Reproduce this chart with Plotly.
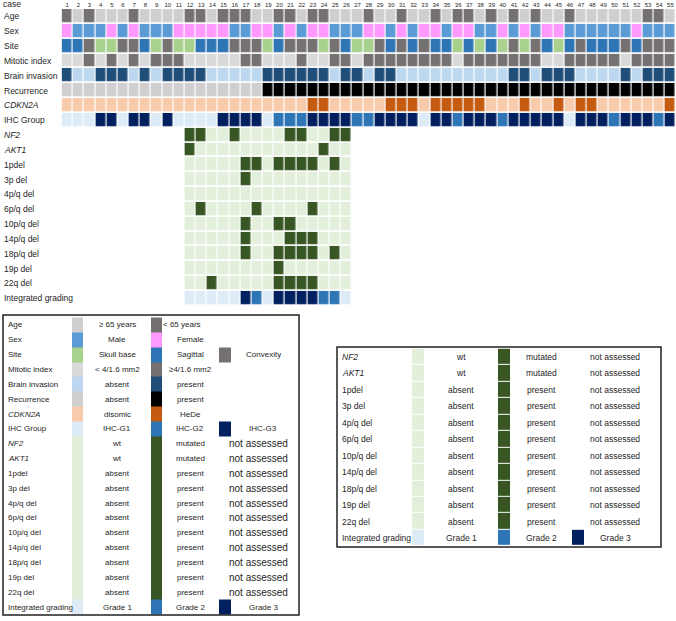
import plotly.graph_objects as go

W, H = 676, 621
FONT = 'Liberation Sans, Arial, sans-serif'
TXT = '#262626'

cases = list(range(1, 56))
gen_cases = [12, 13, 14, 15, 16, 17, 18, 19, 20, 21, 22, 23, 24, 25, 26]

# clinical rows, one value per case (index into the level list)
age_levels = ['≥ 65 years', '< 65 years']
age = [1, 0, 1, 0, 0, 0, 1, 0, 0, 0, 0, 1, 1, 0, 1, 1, 1, 0, 0, 1,
       1, 0, 1, 1, 0, 0, 0, 1, 0, 0, 1, 0, 0, 1, 0, 1, 1, 0, 1, 0,
       1, 0, 1, 0, 0, 1, 0, 0, 0, 0, 0, 0, 1, 1, 0]
sex_levels = ['Male', 'Female']
sex = [1, 0, 0, 0, 1, 0, 1, 0, 0, 0, 1, 1, 1, 1, 1, 0, 0, 1, 1, 0,
       1, 0, 1, 1, 0, 0, 0, 1, 1, 0, 1, 0, 1, 1, 0, 1, 1, 0, 0, 1,
       0, 1, 0, 1, 1, 0, 0, 0, 0, 0, 0, 1, 0, 0, 0]
site_levels = ['Skull base', 'Sagittal', 'Convexity']
site = [1, 1, 2, 0, 0, 2, 2, 1, 0, 2, 0, 0, 1, 1, 1, 2, 2, 2, 0, 1,
        2, 2, 2, 0, 2, 1, 0, 0, 2, 1, 2, 1, 2, 1, 1, 0, 1, 0, 1, 0,
        2, 0, 2, 1, 0, 1, 2, 1, 1, 1, 2, 1, 2, 2, 2]
mitotic_levels = ['< 4/1.6 mm2', '≥4/1.6 mm2']
mitotic = [0, 0, 1, 0, 1, 0, 1, 0, 1, 1, 1, 0, 0, 0, 0, 0, 1, 1, 0, 0,
           0, 1, 0, 0, 1, 1, 0, 1, 1, 1, 1, 1, 1, 1, 1, 0, 1, 1, 1, 1,
           1, 1, 1, 0, 0, 1, 1, 1, 1, 1, 0, 1, 1, 1, 1]
absent_present = ['absent', 'present']
brain = [1, 0, 0, 1, 1, 1, 0, 1, 0, 1, 1, 1, 1, 0, 0, 0, 0, 0, 1, 1,
         1, 1, 1, 1, 0, 1, 1, 0, 1, 1, 0, 0, 0, 0, 0, 0, 0, 0, 0, 0,
         1, 1, 0, 1, 1, 1, 0, 0, 0, 0, 1, 0, 1, 1, 1]
recurrence = [0, 0, 0, 0, 0, 0, 0, 0, 0, 0, 0, 0, 0, 0, 0, 0, 0, 0, 1, 1,
              1, 1, 1, 1, 1, 1, 1, 1, 1, 1, 1, 1, 1, 1, 1, 1, 1, 1, 1, 1,
              1, 1, 1, 1, 1, 1, 1, 1, 1, 1, 1, 1, 1, 1, 1]
cdkn2a_levels = ['disomic', 'HeDe']
cdkn2a = [0, 0, 0, 0, 0, 0, 0, 0, 0, 0, 0, 0, 0, 0, 0, 0, 0, 0, 0, 0,
          0, 0, 1, 1, 0, 0, 0, 0, 0, 1, 1, 1, 0, 1, 1, 1, 1, 1, 0, 0,
          0, 1, 0, 0, 1, 0, 1, 1, 0, 0, 0, 0, 0, 0, 1]
ihc_levels = ['IHC-G1', 'IHC-G2', 'IHC-G3']
ihc = [0, 0, 0, 2, 2, 0, 2, 2, 0, 2, 0, 0, 0, 0, 2, 2, 2, 2, 0, 1,
       1, 1, 2, 2, 2, 2, 1, 1, 2, 2, 2, 2, 0, 2, 2, 1, 2, 2, 2, 1,
       2, 2, 2, 2, 2, 0, 2, 2, 2, 1, 2, 2, 2, 1, 2]

# molecular rows, only cases 12-26 assessed
wt_mut = ['wt', 'mutated']
nf2 = [1, 1, 0, 0, 1, 0, 0, 0, 0, 1, 1, 0, 0, 1, 1]
akt1 = [1, 0, 0, 0, 0, 0, 0, 0, 0, 0, 0, 0, 1, 0, 0]
del1p = [0, 0, 0, 0, 0, 1, 1, 0, 1, 1, 1, 1, 0, 1, 0]
del3p = [0, 0, 0, 0, 0, 1, 0, 0, 0, 0, 0, 0, 0, 0, 0]
del4pq = [0, 0, 0, 0, 0, 0, 0, 0, 0, 0, 0, 0, 0, 0, 0]
del6pq = [0, 1, 0, 0, 0, 0, 1, 0, 0, 0, 0, 1, 0, 0, 0]
del10pq = [0, 0, 0, 0, 0, 1, 0, 0, 1, 1, 0, 0, 0, 0, 0]
del14pq = [0, 0, 0, 0, 0, 1, 0, 0, 0, 1, 1, 1, 0, 0, 0]
del18pq = [0, 0, 0, 0, 0, 1, 0, 0, 1, 1, 1, 1, 0, 1, 0]
del19p = [0, 0, 0, 0, 0, 0, 0, 0, 1, 0, 0, 0, 0, 0, 0]
del22q = [0, 0, 1, 0, 0, 0, 0, 0, 1, 1, 1, 1, 0, 0, 0]
grade_levels = ['Grade 1', 'Grade 2', 'Grade 3']
grading = [0, 0, 0, 0, 0, 2, 1, 0, 2, 2, 2, 2, 1, 1, 0]

BLUES3 = ['#DDEBF7', '#2E75B6', '#002060']
GREENS = ['#E2EFDA', '#375623']

clin_rows = [
    ('Age', age, age_levels, ['#D0CECE', '#767171']),
    ('Sex', sex, sex_levels, ['#5B9BD5', '#FF99FF']),
    ('Site', site, site_levels, ['#A9D18E', '#2E75B6', '#767171']),
    ('Mitotic index', mitotic, mitotic_levels, ['#D9D9D9', '#767171']),
    ('Brain invasion', brain, absent_present, ['#BDD7EE', '#1F4E79']),
    ('Recurrence', recurrence, absent_present, ['#D0CECE', '#000000']),
    ('<i>CDKN2A</i>', cdkn2a, cdkn2a_levels, ['#F8CBAD', '#C55A11']),
    ('IHC Group', ihc, ihc_levels, BLUES3),
]
gen_rows = [
    ('<i>NF2</i>', nf2, wt_mut, GREENS),
    ('<i>AKT1</i>', akt1, wt_mut, GREENS),
    ('1pdel', del1p, absent_present, GREENS),
    ('3p del', del3p, absent_present, GREENS),
    ('4p/q del', del4pq, absent_present, GREENS),
    ('6p/q del', del6pq, absent_present, GREENS),
    ('10p/q del', del10pq, absent_present, GREENS),
    ('14p/q del', del14pq, absent_present, GREENS),
    ('18p/q del', del18pq, absent_present, GREENS),
    ('19p del', del19p, absent_present, GREENS),
    ('22q del', del22q, absent_present, GREENS),
    ('Integrated grading', grading, grade_levels, BLUES3),
]

palette = []


def pal(color):
    if color not in palette:
        palette.append(color)
    return palette.index(color)


z = []
for label, vals, levels, cols in clin_rows:
    z.append([pal(cols[v]) for v in vals])
for label, vals, levels, cols in gen_rows:
    line = [None] * len(cases)
    for c, v in zip(gen_cases, vals):
        line[c - 1] = pal(cols[v])
    z.append(line)
row_labels = [r[0] for r in clin_rows + gen_rows]

# legend swatches (3 slots per row, gaps between)
leg1_rows = clin_rows + gen_rows
leg2_rows = gen_rows


def legend_z(rows):
    out = []
    for label, vals, levels, cols in rows:
        slots = [pal(c) for c in cols] + [None] * (3 - len(cols))
        out.append([slots[0], None, slots[1], None, slots[2]])
    return out


leg1_z = legend_z(leg1_rows)
leg2_z = legend_z(leg2_rows)

n = len(palette)
colorscale = []
for i, c in enumerate(palette):
    colorscale.append([i / n, c])
    colorscale.append([(i + 1) / n, c])

# layout geometry (pixels)
X0, Y0, Y1 = 61.6, 8.9, 305.7
L1 = dict(box=(3, 315, 299, 615), top=317.5, pitch=14.85,
          sw=[72, 83, 151, 162, 219, 231], lab=6, t=[117, 190, 263], na=258,
          fs=8, nafs=10, ygap=0)
L2 = dict(box=(337, 347, 661, 547), top=348.8, pitch=16.45,
          sw=[412, 424, 498, 510, 572, 584], lab=340, t=[461, 541, 615], na=615,
          fs=8.5, nafs=8.5, ygap=1)

fig = go.Figure()
fig.add_trace(go.Heatmap(
    x=cases, y=list(range(len(z))), z=z, colorscale=colorscale,
    zmin=-0.5, zmax=n - 0.5, showscale=False, xgap=1.2, ygap=1.7,
    hoverinfo='skip'))

annotations = []
for r, lab in enumerate(row_labels):
    annotations.append(dict(x=2 / W, y=r, xref='paper', yref='y', text=lab,
                            xanchor='left', yanchor='middle', showarrow=False,
                            font=dict(size=8.5, color=TXT)))
annotations.append(dict(x=1 / W, y=1 - 4 / H, xref='paper', yref='paper',
                        text='case', xanchor='left', yanchor='middle',
                        showarrow=False, font=dict(size=8.5, color=TXT)))

shapes = []
for L, lz, lrows in [(L1, leg1_z, leg1_rows), (L2, leg2_z, leg2_rows)]:
    y_edges = [L['top'] + i * L['pitch'] for i in range(len(lz) + 1)]
    fig.add_trace(go.Heatmap(
        x=L['sw'], y=y_edges, z=lz, colorscale=colorscale,
        zmin=-0.5, zmax=n - 0.5, showscale=False, ygap=L['ygap'],
        xaxis='x2', yaxis='y2', hoverinfo='skip'))
    x0, y0, x1, y1 = L['box']
    shapes.append(dict(type='rect', xref='x2', yref='y2', x0=x0, y0=y0,
                       x1=x1, y1=y1, line=dict(color='#222', width=1.5)))
    for i, (label, vals, levels, cols) in enumerate(lrows):
        yc = L['top'] + (i + 0.5) * L['pitch']
        annotations.append(dict(x=L['lab'], y=yc, xref='x2', yref='y2',
                                text=label, xanchor='left', yanchor='middle',
                                showarrow=False,
                                font=dict(size=L['fs'], color=TXT)))
        texts = list(levels)
        if len(levels) == 2 and cols is GREENS:
            texts.append('not assessed')
        for k, t in enumerate(texts):
            xc = L['t'][k]
            size = L['fs']
            if t == 'not assessed':
                xc, size = L['na'], L['nafs']
            if t == '< 65 years':
                xc = 182
            annotations.append(dict(x=xc, y=yc, xref='x2', yref='y2', text=t,
                                    xanchor='center', yanchor='middle',
                                    showarrow=False,
                                    font=dict(size=size, color=TXT)))

fig.update_layout(
    width=W, height=H, margin=dict(l=0, r=0, t=0, b=0),
    paper_bgcolor='white', plot_bgcolor='rgba(0,0,0,0)',
    font=dict(family=FONT, color=TXT), showlegend=False,
    xaxis=dict(domain=[X0 / W, 1], range=[0.5, 55.5], side='top',
               tickvals=cases, ticktext=[str(c) for c in cases],
               tickfont=dict(size=6), ticks='', showgrid=False,
               zeroline=False, showline=False, automargin=False, fixedrange=True),
    yaxis=dict(domain=[1 - Y1 / H, 1 - Y0 / H], range=[len(z) - 0.5, -0.5],
               visible=False, fixedrange=True),
    xaxis2=dict(domain=[0, 1], range=[0, W], visible=False, anchor='y2',
                fixedrange=True),
    yaxis2=dict(domain=[0, 1], range=[H, 0], visible=False, anchor='x2',
                fixedrange=True),
    annotations=annotations, shapes=shapes)

# page body margin off so the 676x621 figure fills the window
fig.write_html('out.html', config={'displayModeBar': False},
               post_script="document.body.style.margin='0';")
